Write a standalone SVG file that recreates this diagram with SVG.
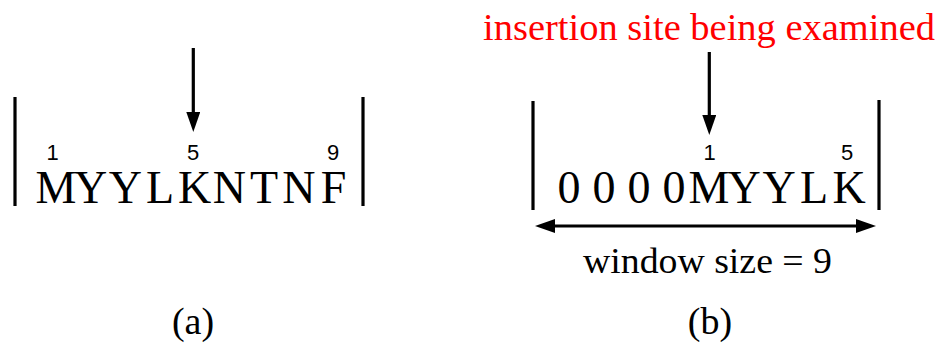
<svg xmlns="http://www.w3.org/2000/svg" width="942" height="345" viewBox="0 0 942 345">
<style>
.bar{stroke:#000;stroke-width:3.2;fill:none}
.conn{stroke:#000;stroke-width:3.2;fill:none}
.seq{font-family:"Liberation Serif","Times New Roman",serif;font-size:46px;fill:#000;text-anchor:middle}
.num{font-family:"Liberation Sans",Arial,sans-serif;font-size:22px;fill:#000;text-anchor:middle}
.lbl{font-family:"Liberation Serif","Times New Roman",serif;fill:#000}
.red{fill:#ff0000}
</style>
<defs>
<marker id="ah" viewBox="0 0 20 14" refX="10" refY="7" markerWidth="20" markerHeight="14" markerUnits="userSpaceOnUse" orient="auto-start-reverse">
<path d="M0,0 L20,7 L0,14 z" fill="#000"/>
</marker>
</defs>
<g id="panel-a">
<line class="bar" x1="15" y1="97" x2="15" y2="206"/>
<line class="bar" x1="363" y1="97" x2="363" y2="206"/>
<text class="num" x="52.5" y="159.5">1</text>
<text class="num" x="193" y="159.5">5</text>
<text class="num" x="333" y="159.5">9</text>
<text class="seq" x="55.9 90.6 125.3 160 194.7 229.4 264.1 298.8 333.5" y="203">MYYLKNTNF</text>
<text class="lbl" x="193" y="334" font-size="38" text-anchor="middle">(a)</text>
</g>
<g id="panel-b">
<line class="bar" x1="533" y1="101" x2="533" y2="210"/>
<line class="bar" x1="879" y1="100" x2="879" y2="210"/>
<text class="lbl red" x="483" y="40" font-size="38.5" textLength="452" lengthAdjust="spacingAndGlyphs">insertion site being examined</text>
<text class="num" x="709.5" y="159.5">1</text>
<text class="num" x="847" y="159.5">5</text>
<text class="seq" x="569 604 639 674 709 744 779 814 849" y="203">0000MYYLK</text>
<text class="lbl" x="583" y="273" font-size="36" textLength="249" lengthAdjust="spacingAndGlyphs">window size = 9</text>
<text class="lbl" x="710" y="334" font-size="38" text-anchor="middle">(b)</text>
</g>
<g id="connectors">
<line class="conn" x1="193.3" y1="48" x2="193.3" y2="122" marker-end="url(#ah)"/>
<line class="conn" x1="709.3" y1="52" x2="709.3" y2="125" marker-end="url(#ah)"/>
<line class="conn" x1="545" y1="226" x2="866" y2="226" marker-start="url(#ah)" marker-end="url(#ah)"/>
</g>
</svg>
